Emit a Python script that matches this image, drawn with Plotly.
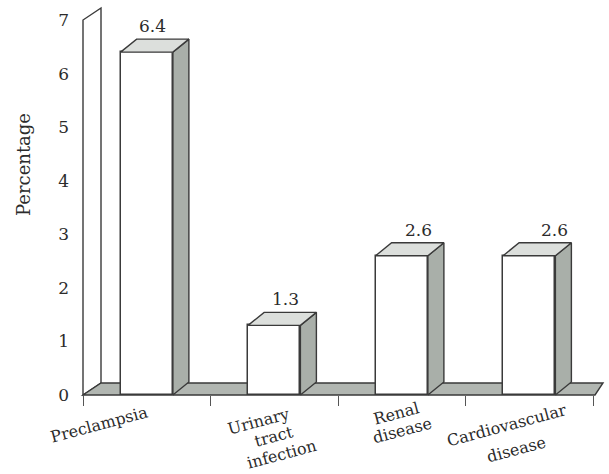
import plotly.graph_objects as go

# ---- data -------------------------------------------------------------
categories = ["Preclampsia", "Urinary tract infection", "Renal disease", "Cardiovascular disease"]
percentages = [6.4, 1.3, 2.6, 2.6]
value_labels = ["6.4", "1.3", "2.6", "2.6"]
y_ticks = [0, 1, 2, 3, 4, 5, 6, 7]
y_tick_labels = ["0", "1", "2", "3", "4", "5", "6", "7"]

# ---- page / scale geometry (pixels) ------------------------------------
W, H = 609, 474
ML, MT, MB, MR = 70, 0, 64, 0
PLOT_W, PLOT_H = W - ML - MR, H - MT - MB
PX_PER_CAT = 127.5          # width of one category band
PX_PER_UNIT = 53.57         # pixels per percentage point
X_LEFT_PX = 83              # window x of the left edge of the first band
Y_ZERO_PX = 395             # window y of the front floor edge (value 0)

x_range = [-0.5 - (X_LEFT_PX - ML) / PX_PER_CAT, -0.5 + (W - MR - X_LEFT_PX) / PX_PER_CAT]
y_range = [-(MT + PLOT_H - Y_ZERO_PX) / PX_PER_UNIT, (Y_ZERO_PX - MT) / PX_PER_UNIT]


def ddx(px):
    return px / PX_PER_CAT


def ddy(px):
    return px / PX_PER_UNIT


BAR_W = 0.41
BAR_DEPTH = (ddx(16), ddy(13))
WALL_DEPTH = (ddx(18), ddy(12))
FLOOR_RIGHT_DEPTH = (ddx(8), ddy(12))
Y_TOP = y_ticks[-1]
N = len(categories)

EDGE = "#3a3a3a"
SIDE = "#a9afa9"
TOP = "#dcdfdc"
FLOOR = "#b1b6b1"
TEXT = "#2b2b2b"
FONT = "DejaVu Serif"

fig = go.Figure()

# front faces of the bars
fig.add_trace(go.Bar(
    x=list(range(N)), y=percentages, width=BAR_W,
    marker=dict(color="white", line=dict(color=EDGE, width=1.5)),
    hoverinfo="skip", showlegend=False,
))

# right-hand side faces and top faces, built from the same values
side_x, side_y, top_x, top_y = [], [], [], []
bx, by = BAR_DEPTH
for i, v in enumerate(percentages):
    xl, xr = i - BAR_W / 2, i + BAR_W / 2
    side_x += [xr, xr + bx, xr + bx, xr, xr, None]
    side_y += [0, by, v + by, v, 0, None]
    top_x += [xl, xr, xr + bx, xl + bx, xl, None]
    top_y += [v, v, v + by, v + by, v, None]

fig.add_trace(go.Scatter(
    x=side_x, y=side_y, mode="lines", fill="toself", fillcolor=SIDE,
    line=dict(color=EDGE, width=1.4), hoverinfo="skip", showlegend=False,
))
fig.add_trace(go.Scatter(
    x=top_x, y=top_y, mode="lines", fill="toself", fillcolor=TOP,
    line=dict(color=EDGE, width=1.4), hoverinfo="skip", showlegend=False,
))

# side wall and floor of the 3-D box
wx, wy = WALL_DEPTH
fx, fy = FLOOR_RIGHT_DEPTH
x_end = N - 0.5 + ddx(2)
wall_path = (f"M {-0.5},{0} L {-0.5},{Y_TOP} L {-0.5 + wx},{Y_TOP + wy} "
             f"L {-0.5 + wx},{wy} Z")
floor_path = (f"M {-0.5},{0} L {x_end},{0} L {x_end + fx},{fy} "
              f"L {-0.5 + wx},{wy} Z")
fig.add_shape(type="path", path=wall_path, xref="x", yref="y", layer="below",
              fillcolor="white", line=dict(color=EDGE, width=1.4))
fig.add_shape(type="path", path=floor_path, xref="x", yref="y", layer="below",
              fillcolor=FLOOR, line=dict(color=EDGE, width=1.4))

# value labels above each bar
value_xshift = [-2, 3, 9, 17]
for i, (v, lab) in enumerate(zip(percentages, value_labels)):
    fig.add_annotation(
        x=i + bx / 2, y=v + by, xref="x", yref="y", text=lab, showarrow=False,
        xanchor="center", yanchor="bottom", xshift=value_xshift[i], yshift=1,
        font=dict(family=FONT, size=17, color=TEXT),
    )

# slanted category labels, one annotation per text line
line_pos = [
    [(99, 424)],
    [(258, 421), (274, 436), (281, 454)],
    [(396, 413), (402, 430)],
    [(506, 425), (516, 449)],
]
for i, name in enumerate(categories):
    band_center = X_LEFT_PX + (i + 0.5) * PX_PER_CAT
    for word, (px, py) in zip(name.split(), line_pos[i]):
        fig.add_annotation(
            x=i, y=(MT + PLOT_H - py) / PLOT_H, xref="x", yref="paper",
            text=word, showarrow=False, textangle=-15,
            xanchor="center", yanchor="middle", xshift=px - band_center,
            font=dict(family=FONT, size=16, color=TEXT),
        )

# axis title
fig.add_annotation(
    x=(23 - ML) / PLOT_W, y=(MT + PLOT_H - 165) / PLOT_H, xref="paper", yref="paper",
    text="Percentage", showarrow=False, textangle=-90,
    xanchor="center", yanchor="middle",
    font=dict(family=FONT, size=18, color=TEXT),
)

fig.update_layout(
    width=W, height=H,
    margin=dict(l=ML, r=MR, t=MT, b=MB, pad=0),
    paper_bgcolor="white", plot_bgcolor="white",
    showlegend=False, bargap=0,
    xaxis=dict(
        range=x_range, anchor="free", position=(MT + PLOT_H - Y_ZERO_PX) / PLOT_H,
        tickmode="array", tickvals=[k - 0.5 for k in range(N + 1)],
        showticklabels=False, ticks="outside", ticklen=10, tickwidth=1,
        tickcolor="#555555", showgrid=False, zeroline=False, showline=False,
        fixedrange=True,
    ),
    yaxis=dict(
        range=y_range, tickmode="array", tickvals=y_ticks, ticktext=y_tick_labels,
        ticks="", showgrid=False, zeroline=False, showline=False,
        tickfont=dict(family=FONT, size=17, color=TEXT),
        fixedrange=True,
    ),
)

fig.write_html("out.html")
